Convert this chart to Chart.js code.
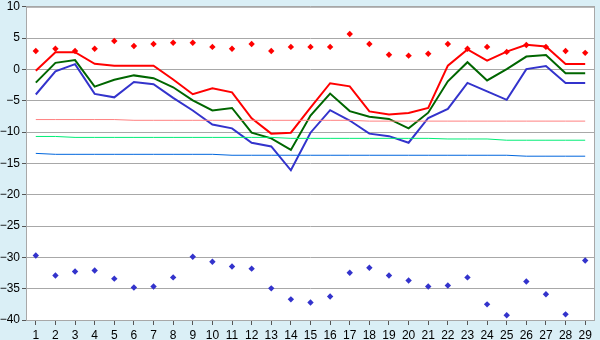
<!DOCTYPE html>
<html>
<head>
<meta charset="utf-8">
<script src="https://cdn.jsdelivr.net/npm/chart.js@4"></script>
<style>
  html, body { margin: 0; padding: 0; background: #daeff6; }
  #wrap { width: 600px; height: 340px; position: relative; }
</style>
</head>
<body>
<div id="wrap"><canvas id="chart"></canvas></div>
<script>
const days = ['1','2','3','4','5','6','7','8','9','10','11','12','13','14','15','16','17','18','19','20','21','22','23','24','25','26','27','28','29'];

// main lines
const redLine   = [-0.2, 2.75, 2.75, 0.9, 0.6, 0.6, 0.6, -1.6, -3.95, -3.0, -3.65, -7.8, -10.25, -10.1, -6.1, -2.2, -2.7, -6.7, -7.2, -6.95, -6.15, 0.6, 3.2, 1.4, 2.85, 3.95, 3.65, 0.85, 0.85];
const greenLine = [-2.1, 1.05, 1.5, -2.75, -1.65, -0.95, -1.4, -2.85, -4.95, -6.55, -6.15, -10.1, -11.0, -12.85, -7.35, -3.85, -6.65, -7.55, -7.9, -9.4, -6.9, -1.9, 1.15, -1.75, 0.05, 2.05, 2.3, -0.6, -0.6];
const blueLine  = [-4.0, -0.3, 0.85, -3.9, -4.45, -2.0, -2.35, -4.55, -6.55, -8.8, -9.4, -11.7, -12.3, -16.1, -10.1, -6.5, -8.15, -10.25, -10.65, -11.7, -7.75, -6.3, -2.15, -3.5, -4.85, 0.05, 0.55, -2.15, -2.15];

// scattered markers
const redDots  = [2.95, 3.3, 2.95, 3.3, 4.55, 3.75, 4.05, 4.25, 4.25, 3.6, 3.3, 4.05, 2.95, 3.6, 3.6, 3.6, 5.65, 4.05, 2.35, 2.2, 2.5, 4.05, 3.3, 3.6, 2.8, 3.9, 3.6, 2.95, 2.65];
const blueDots = [-29.7, -32.9, -32.25, -32.1, -33.4, -34.8, -34.65, -33.2, -29.9, -30.7, -31.45, -31.8, -34.95, -36.7, -37.2, -36.25, -32.45, -31.65, -32.9, -33.7, -34.65, -34.5, -33.2, -37.5, -39.25, -33.85, -35.9, -39.1, -30.5];

// nearly flat reference lines
const pinkRef  = [-8.0, -8.0, -8.0, -8.0, -8.0, -8.12, -8.12, -8.12, -8.12, -8.12, -8.12, -8.12, -8.12, -8.12, -8.12, -8.12, -8.12, -8.25, -8.25, -8.25, -8.25, -8.25, -8.25, -8.25, -8.25, -8.25, -8.25, -8.25, -8.25];
const mintRef  = [-10.7, -10.7, -10.85, -10.85, -10.85, -10.85, -10.85, -10.85, -10.85, -10.85, -10.85, -10.85, -10.85, -11.0, -11.0, -11.0, -11.0, -11.0, -11.0, -11.0, -11.0, -11.1, -11.1, -11.1, -11.3, -11.3, -11.3, -11.3, -11.3];
const azureRef = [-13.4, -13.55, -13.55, -13.55, -13.55, -13.55, -13.55, -13.55, -13.55, -13.55, -13.7, -13.7, -13.7, -13.7, -13.7, -13.7, -13.7, -13.7, -13.7, -13.7, -13.7, -13.7, -13.7, -13.7, -13.7, -13.85, -13.85, -13.85, -13.85];

const yMin = -40, yMax = 10, yStep = 5;

const plotFrame = {
    id: 'plotFrame',
    beforeDraw(chart) {
        const a = chart.chartArea, c = chart.ctx;
        c.save();
        c.fillStyle = '#ffffff';
        c.fillRect(a.left, a.top, a.right - a.left, a.bottom - a.top);
        c.restore();
    },
    afterDraw(chart) {
        const a = chart.chartArea, c = chart.ctx;
        c.save();
        c.strokeStyle = '#a8a8a8';
        c.lineWidth = 1;
        c.strokeRect(a.left + 0.5, a.top + 0.5, a.right - a.left - 1, a.bottom - a.top);
        c.restore();
    }
};

function flat(data, color) {
    return { data: data, borderColor: color, borderWidth: 1, pointRadius: 0, tension: 0, fill: false };
}
function main(data, color) {
    return { data: data, borderColor: color, borderWidth: 2, pointRadius: 0, tension: 0, fill: false };
}
function dots(data, color) {
    return { data: data, showLine: false, pointStyle: 'rectRot', pointRadius: 3.2,
             pointBackgroundColor: color, pointBorderColor: color, pointBorderWidth: 0 };
}

new Chart(document.getElementById('chart'), {
    type: 'line',
    data: {
        labels: days,
        datasets: [
            flat(pinkRef, '#ff8080'),
            flat(mintRef, '#00ee77'),
            flat(azureRef, '#0066dd'),
            main(blueLine, '#3333cc'),
            main(greenLine, '#006600'),
            main(redLine, '#ff0000'),
            dots(redDots, '#ff0000'),
            dots(blueDots, '#3333cc')
        ]
    },
    options: {
        responsive: true,
        maintainAspectRatio: false,
        animation: false,
        layout: { padding: { top: 5, right: 5, left: 0, bottom: 0 } },
        plugins: { legend: { display: false }, tooltip: { enabled: false } },
        scales: {
            x: {
                offset: true,
                grid: { display: true, drawOnChartArea: false, drawTicks: true, tickLength: 5, color: '#555555', offset: false },
                border: { display: false },
                ticks: { color: '#000000', font: { family: 'Liberation Sans', size: 12 }, padding: 3, maxRotation: 0, autoSkip: false },
                afterFit(scale) { scale.height = 20; }
            },
            y: {
                min: yMin,
                max: yMax,
                grid: { color: '#a8a8a8', tickLength: 4, tickColor: '#555555' },
                border: { display: false },
                ticks: {
                    stepSize: yStep,
                    color: '#000000',
                    font: { family: 'Liberation Sans', size: 12, lineHeight: 0.8 },
                    padding: 2,
                    callback: v => String(v).replace('-', '\u2212')
                },
                afterFit(scale) { scale.width = 26; }
            }
        }
    },
    plugins: [plotFrame]
});
</script>
</body>
</html>
